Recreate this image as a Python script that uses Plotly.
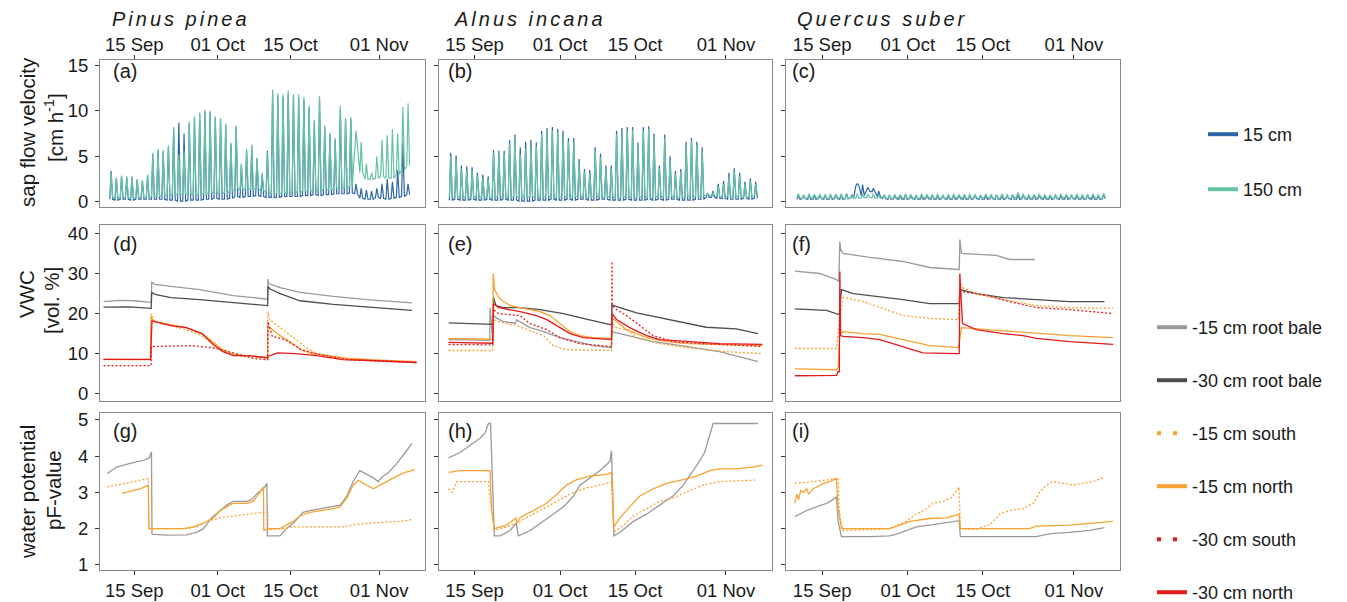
import pandas as pd
import plotly.graph_objects as go

W, H = 1347, 602
BASE = pd.Timestamp("2019-08-31")   # day number d -> BASE + d days (d=15 -> 15 Sep)

# ---------------- axis / text data ----------------
tick_days = [15, 31, 45, 62]
tick_text = ["15 Sep", "01 Oct", "15 Oct", "01 Nov"]
species = ["Pinus pinea", "Alnus incana", "Quercus suber"]
panel_letters = ["(a)", "(b)", "(c)", "(d)", "(e)", "(f)", "(g)", "(h)", "(i)"]
sap_legend = ["15 cm", "150 cm"]
soil_legend = ["-15 cm root bale", "-30 cm root bale", "-15 cm south",
               "-15 cm north", "-30 cm south", "-30 cm north"]

# ---------------- sap flow (daily peak / night trough), days 10..67 ----------------
sf_days = list(range(10, 68))

pp_blue_pk = [3.4, 2.6, 2.8, 2.7, 2.7, 2.4, 2.3, 2.9,
              5.2, 5.6, 5.5, 6.0, 8.0, 8.7, 7.5, 8.6, 9.2, 9.6,
              9.9, 9.8, 9.2, 9.0, 8.4, 6.3, 8.2, 4.0, 5.6, 6.1,
              4.7, 3.0, 5.6, 12.0, 11.6, 11.5, 11.9, 11.5, 11.5, 11.2,
              10.3, 8.8, 11.3, 8.2, 7.4, 6.8, 10.2, 9.0, 9.1, 2.0,
              1.5, 1.3, 1.2, 1.5, 2.0, 2.5, 2.2, 3.5, 6.5, 2.0]
pp_blue_tr = [0.3, 0.2, 0.3, 0.3, 0.2, 0.3, 0.3, 0.3,
              0.3, 0.3, 0.3, 0.2, 0.2, 0.1, 0.1, 0.2, 0.2, 0.2,
              0.3, 0.3, 0.4, 0.3, 0.3, 0.4, 0.6, 0.5, 0.6, 0.6,
              0.7, 0.6, 0.5, 0.5, 0.5, 0.6, 0.6, 0.6, 0.6, 0.7,
              0.7, 0.8, 0.7, 0.8, 0.8, 0.9, 0.9, 0.9, 1.0, 0.9,
              0.4, 0.3, 0.3, 0.5, 0.4, 0.3, 0.4, 0.5, 0.6, 0.8]
pp_teal_pk = [3.2, 2.7, 2.9, 2.8, 2.8, 2.5, 2.4, 3.0,
              5.4, 5.8, 5.7, 6.2, 8.2, 5.2, 5.6, 8.8, 9.4, 9.8,
              10.1, 10.0, 9.4, 9.2, 8.6, 6.5, 8.4, 4.2, 5.8, 6.3,
              4.9, 3.2, 5.4, 12.3, 11.9, 11.8, 12.2, 11.8, 11.8, 11.5,
              10.6, 9.0, 11.6, 8.4, 7.6, 7.0, 10.5, 9.2, 9.3, 7.8,
              6.6, 4.2, 3.2, 5.0, 6.8, 7.3, 8.0, 7.5, 10.4, 10.8]
pp_teal_tr = [0.5, 0.4, 0.5, 0.5, 0.4, 0.5, 0.5, 0.5,
              0.6, 0.6, 0.7, 0.8, 0.8, 0.9, 0.9, 0.9, 0.8, 0.8,
              0.9, 1.0, 1.0, 1.0, 1.0, 1.2, 1.5, 1.3, 1.4, 1.4,
              1.5, 1.2, 1.0, 0.9, 0.9, 1.0, 1.0, 1.1, 1.0, 1.2,
              1.2, 1.3, 1.2, 1.4, 1.3, 1.5, 1.6, 1.5, 1.7, 6.0,
              3.2, 2.5, 2.5, 2.6, 2.8, 2.6, 2.6, 3.0, 3.5, 4.0]

al_blue_pk = [5.4, 5.1, 4.0, 3.9, 3.8, 3.2, 3.0, 2.8,
              5.7, 5.6, 5.6, 6.8, 7.4, 6.0, 6.6, 6.8, 6.5, 7.8,
              8.1, 8.2, 8.0, 7.8, 7.0, 7.0, 4.7, 3.6, 3.5, 6.0,
              5.3, 4.0, 4.0, 7.8, 8.1, 8.2, 8.2, 6.5, 8.2, 8.3,
              7.5, 4.0, 7.4, 5.0, 3.4, 3.6, 6.6, 7.0, 6.6, 6.0,
              1.0, 1.2, 2.0, 2.3, 3.2, 3.7, 3.2, 2.2, 2.6, 2.2]
al_blue_tr = [0.2, 0.3, 0.2, 0.2, 0.3, 0.2, 0.2, 0.3,
              0.2, 0.2, 0.3, 0.2, 0.2, 0.1, 0.1, 0.1, 0.2, 0.2,
              0.2, 0.3, 0.2, 0.2, 0.3, 0.2, 0.3, 0.3, 0.2, 0.2,
              0.3, 0.3, 0.2, 0.2, 0.2, 0.3, 0.2, 0.2, 0.2, 0.3,
              0.2, 0.3, 0.2, 0.3, 0.3, 0.2, 0.2, 0.2, 0.3, 0.3,
              0.5, 0.5, 0.4, 0.4, 0.3, 0.3, 0.3, 0.4, 0.3, 0.4]
al_teal_pk = [5.0, 4.7, 3.6, 3.5, 3.4, 2.9, 2.7, 2.5,
              5.4, 5.3, 5.3, 6.4, 7.0, 5.2, 5.8, 6.0, 6.1, 7.4,
              7.8, 7.8, 7.6, 7.4, 6.6, 6.6, 4.3, 3.3, 3.2, 5.6,
              4.9, 3.7, 3.7, 7.4, 7.8, 7.8, 7.9, 6.1, 7.8, 8.0,
              7.1, 3.7, 7.0, 4.6, 3.1, 3.3, 6.2, 6.7, 6.3, 5.6,
              0.9, 1.0, 1.7, 2.0, 2.8, 3.3, 2.9, 2.0, 2.3, 2.0]
al_teal_tr = [0.5, 0.5, 0.6, 0.5, 0.5, 0.6, 0.5, 0.5,
              0.5, 0.6, 0.5, 0.5, 0.6, 0.5, 0.5, 0.6, 0.5, 0.5,
              0.6, 0.5, 0.5, 0.6, 0.5, 0.6, 0.6, 0.5, 0.5, 0.6,
              0.6, 0.5, 0.6, 0.5, 0.5, 0.6, 0.5, 0.5, 0.6, 0.5,
              0.5, 0.6, 0.5, 0.6, 0.5, 0.5, 0.6, 0.5, 0.6, 0.7,
              0.7, 0.7, 0.6, 0.6, 0.6, 0.6, 0.6, 0.5, 0.6, 0.6]

qs_blue_pk = [0.75, 0.7, 0.8, 0.75, 0.7, 0.8, 0.75, 0.85,
              0.8, 0.9, 0.85, 2.0, 1.9, 1.6, 1.5, 1.2, 0.8, 0.75,
              0.7, 0.75, 0.8, 0.7, 0.75, 0.7, 0.8, 0.75, 0.7, 0.75,
              0.7, 0.75, 0.8, 0.7, 0.75, 0.8, 0.7, 0.75, 0.7, 0.8,
              0.75, 0.7, 0.8, 0.9, 0.75, 0.7, 0.8, 0.75, 0.7, 0.75,
              0.7, 0.75, 0.8, 0.7, 0.75, 0.7, 0.8, 0.75, 0.7, 0.85]
qs_blue_tr = [0.3, 0.35, 0.3, 0.3, 0.35, 0.3, 0.3, 0.35,
              0.3, 0.35, 0.4, 1.8, 0.7, 1.2, 1.1, 0.6, 0.35, 0.3,
              0.35, 0.3, 0.3, 0.35, 0.3, 0.3, 0.35, 0.3, 0.3, 0.35,
              0.3, 0.3, 0.35, 0.3, 0.3, 0.35, 0.3, 0.3, 0.35, 0.3,
              0.3, 0.35, 0.3, 0.3, 0.35, 0.3, 0.3, 0.35, 0.3, 0.3,
              0.35, 0.3, 0.3, 0.35, 0.3, 0.3, 0.35, 0.3, 0.3, 0.35]
qs_teal_pk = [0.9, 0.8, 0.9, 0.85, 0.9, 0.8, 0.9, 0.85,
              0.9, 0.8, 0.85, 0.9, 0.8, 0.85, 0.9, 0.8, 0.75, 0.8,
              0.85, 0.8, 0.9, 0.85, 0.8, 0.9, 0.8, 0.85, 0.9, 0.8,
              0.85, 0.9, 0.8, 0.85, 0.9, 0.85, 0.8, 0.9, 0.85, 0.8,
              0.9, 0.85, 0.8, 1.05, 0.9, 0.85, 0.8, 0.9, 0.85, 0.8,
              0.85, 0.9, 0.8, 0.85, 0.9, 0.85, 0.8, 0.9, 0.85, 0.95]
qs_teal_tr = [0.45, 0.4, 0.45, 0.5, 0.4, 0.45, 0.4, 0.45,
              0.45, 0.4, 0.45, 0.4, 0.45, 0.5, 0.45, 0.4, 0.45, 0.4,
              0.45, 0.5, 0.4, 0.45, 0.4, 0.45, 0.5, 0.4, 0.45, 0.4,
              0.45, 0.4, 0.5, 0.45, 0.4, 0.45, 0.4, 0.5, 0.45, 0.4,
              0.45, 0.4, 0.45, 0.55, 0.45, 0.4, 0.45, 0.5, 0.4, 0.45,
              0.4, 0.45, 0.5, 0.4, 0.45, 0.4, 0.45, 0.5, 0.4, 0.45]

# ---------------- VWC [vol. %] : (day, value) breakpoints ----------------
# Pinus pinea (d)
d_rb15_t = [9.1, 12, 15, 18.25, 18.35, 19, 22, 27.6, 34, 40.6, 40.65, 40.8, 43, 46.8, 53.2, 59.6, 68.3]
d_rb15_v = [23.0, 23.3, 23.2, 22.8, 27.8, 27.3, 26.8, 26.0, 24.5, 23.6, 28.6, 27.5, 26.5, 25.3, 24.3, 23.5, 22.7]
d_rb30_t = [9.1, 14, 18.25, 18.35, 19, 22, 27.6, 34, 40.6, 40.65, 41, 43, 46.8, 53.2, 59.6, 68.3]
d_rb30_v = [21.6, 21.7, 21.3, 25.3, 24.8, 24.0, 23.5, 22.8, 22.0, 26.8, 26.2, 25.0, 23.2, 22.3, 21.7, 20.8]
d_s15_t = [9.1, 18.2, 18.3, 18.6, 19, 22, 25, 28, 31, 33, 36, 40.6, 40.65, 41, 43, 45, 48, 50, 55, 60, 69.2]
d_s15_v = [8.5, 8.5, 20.0, 18.5, 17.8, 17.0, 16.0, 14.5, 11.5, 10.0, 9.3, 9.0, 20.5, 18.5, 16.5, 14.5, 11.5, 10.0, 9.0, 8.5, 7.8]
d_n15_t = [9.1, 18.1, 18.2, 18.35, 19, 22, 25, 28, 30, 32, 34, 37, 40.6, 40.65, 41, 43, 45.5, 47, 49, 52, 56, 60, 69.2]
d_n15_v = [8.6, 8.5, 19.5, 18.8, 18.0, 17.3, 16.5, 15.0, 13.0, 11.0, 9.8, 9.5, 9.0, 17.0, 16.5, 14.5, 12.5, 11.0, 10.0, 9.5, 8.8, 8.5, 8.0]
d_s30_t = [9.1, 18.2, 18.3, 19, 26, 30, 33, 36, 38, 40.6, 40.65, 41.5, 44, 47, 50, 53, 56, 60, 69.2]
d_s30_v = [7.0, 7.0, 11.8, 11.8, 12.0, 11.5, 10.5, 9.5, 8.8, 8.5, 18.0, 14.3, 13.5, 11.0, 10.0, 9.2, 8.5, 8.3, 7.8]
d_n30_t = [9.1, 18.1, 18.2, 18.4, 19, 22, 25, 28, 30, 32, 34, 37, 40.6, 40.65, 42.5, 46, 50, 55, 60, 69.2]
d_n30_v = [8.6, 8.6, 11.0, 18.2, 18.0, 17.0, 16.5, 15.0, 12.5, 10.5, 9.5, 9.5, 9.0, 9.3, 10.2, 10.0, 9.5, 8.5, 8.3, 7.8]

# Alnus incana (e)
e_rb15_t = [10.15, 17.6, 17.85, 17.9, 18.4, 18.55, 19.0, 20.4, 22.6, 22.9, 25.4, 27.9, 31.0, 34.7, 37.2, 40.6, 40.7, 41.0, 48.4, 54.6, 60.8, 68.0]
e_rb15_v = [13.5, 13.3, 13.3, 21.5, 13.5, 19.5, 19.0, 18.0, 17.6, 18.4, 16.5, 15.5, 14.0, 12.8, 12.0, 11.5, 15.8, 15.4, 13.0, 11.8, 10.5, 8.0]
e_rb30_t = [10.15, 17.6, 18.4, 18.55, 19.0, 20.4, 23.5, 27.25, 31.6, 34.7, 40.6, 40.7, 41.0, 45.3, 51.5, 58.3, 63.9, 68.0]
e_rb30_v = [17.7, 17.4, 17.3, 24.0, 22.0, 21.5, 21.5, 21.0, 20.0, 19.0, 17.2, 22.2, 22.0, 20.2, 18.5, 16.6, 16.2, 15.0]
e_s15_t = [10.15, 18.4, 18.55, 19.5, 22.9, 27.9, 29.7, 32.2, 40.6, 40.7, 41.55, 43.4, 45.3, 49.6, 54.6, 62.1, 68.8]
e_s15_v = [10.8, 10.8, 18.5, 18.0, 17.0, 14.5, 12.0, 11.0, 10.8, 17.5, 16.5, 16.0, 14.0, 12.5, 11.5, 10.5, 10.0]
e_n15_t = [10.15, 18.4, 18.5, 18.75, 19.5, 20.4, 21.65, 23.5, 25.4, 27.25, 29.1, 31.0, 32.85, 34.7, 37.2, 40.6, 40.7, 41.55, 43.4, 47.15, 51.0, 54.6, 60.8, 68.8]
e_n15_v = [13.8, 13.6, 30.0, 26.0, 24.0, 23.0, 22.0, 21.5, 21.0, 20.5, 19.5, 17.5, 15.5, 14.5, 14.0, 13.8, 19.0, 18.0, 16.0, 14.0, 13.0, 12.5, 12.2, 12.0]
e_s30_t = [10.15, 18.4, 18.55, 19.5, 23.5, 25.4, 28.5, 31.0, 34.7, 40.6, 40.7, 40.75, 41.55, 43.4, 45.9, 48.4, 52.1, 57.7, 68.8]
e_s30_v = [12.3, 12.2, 21.0, 20.0, 19.5, 17.5, 16.0, 14.0, 12.5, 11.8, 33.0, 22.0, 21.0, 19.5, 17.0, 14.5, 13.0, 12.5, 11.8]
e_n30_t = [10.15, 18.4, 18.55, 19.5, 23.5, 26.6, 28.5, 31.0, 32.85, 35.3, 40.3, 40.6, 40.75, 41.55, 44.0, 47.15, 49.6, 54.6, 60.8, 68.8]
e_n30_v = [12.8, 12.6, 22.5, 21.5, 20.5, 19.5, 18.5, 16.5, 15.0, 14.0, 13.5, 13.5, 20.0, 18.5, 16.5, 14.5, 13.5, 13.0, 12.5, 12.3]

# Quercus suber (f)
f_rb15_t = [9.9, 14.56, 17.67, 18.1, 18.3, 18.45, 18.9, 23.9, 30.1, 35.1, 40.4, 40.6, 40.7, 41.0, 47.5, 50.0, 54.7]
f_rb15_v = [30.6, 30.0, 28.5, 28.0, 38.0, 36.0, 35.0, 34.0, 33.0, 31.5, 31.0, 31.0, 38.5, 35.0, 34.5, 33.5, 33.5]
f_rb30_t = [9.9, 15.8, 17.99, 18.2, 18.6, 20.8, 23.9, 30.1, 35.1, 40.4, 40.6, 40.7, 43.8, 48.8, 55.0, 61.2, 67.7]
f_rb30_v = [21.2, 20.8, 19.8, 19.8, 26.0, 25.0, 24.5, 23.5, 22.5, 22.5, 22.5, 26.0, 25.0, 24.0, 23.5, 23.0, 23.0]
f_s15_t = [9.9, 17.67, 18.2, 18.9, 22.65, 25.76, 30.1, 35.1, 40.4, 40.7, 41.2, 43.8, 48.8, 55.0, 61.2, 69.3]
f_s15_v = [11.3, 11.3, 18.0, 24.0, 23.0, 21.5, 19.5, 18.8, 18.5, 27.5, 26.5, 25.0, 23.5, 22.0, 21.5, 21.3]
f_n15_t = [9.9, 17.67, 18.0, 18.3, 18.9, 22.65, 25.76, 30.1, 35.1, 40.4, 40.7, 41.0, 45.7, 48.8, 55.0, 61.2, 69.3]
f_n15_v = [6.2, 6.0, 6.5, 15.0, 15.5, 15.0, 14.8, 13.5, 12.0, 11.5, 13.5, 16.5, 16.0, 15.8, 15.0, 14.5, 14.0]
f_s30_t = [40.7, 41.2, 45.7, 50.0, 55.0, 61.2, 69.3]
f_s30_v = [26.0, 25.5, 24.5, 23.0, 21.5, 21.0, 20.0]
f_n30_t = [9.9, 17.67, 17.99, 18.2, 18.3, 18.45, 18.9, 22.65, 25.76, 28.2, 31.4, 33.8, 40.4, 40.6, 40.7, 41.2, 43.8, 48.8, 52.5, 55.0, 61.2, 69.3]
f_n30_v = [4.5, 4.6, 5.5, 5.5, 30.5, 14.5, 14.3, 14.0, 13.5, 12.5, 11.0, 10.2, 10.0, 10.0, 30.0, 17.5, 16.0, 15.0, 14.5, 13.8, 13.0, 12.3]

# ---------------- water potential pF : (day, value) breakpoints ----------------
g_rb15_t = [9.8, 11.6, 14.2, 16.7, 17.9, 18.3, 18.4, 21.2, 25.0, 26.97, 28.25, 29.86, 31.5, 32.7, 34.0, 36.6, 37.5,
            38.8, 39.8, 40.45, 40.55, 42.96, 43.6, 44.2, 45.5, 46.5, 47.4, 48.7, 50.6, 53.2, 54.5, 55.8, 57.0,
            58.3, 59.6, 60.9, 61.8, 62.8, 63.8, 65.4, 67.0, 68.3]
g_rb15_v = [3.52, 3.7, 3.8, 3.88, 3.95, 4.12, 1.85, 1.82, 1.83, 1.9, 2.0, 2.3, 2.5, 2.65, 2.75, 2.75, 2.8,
            3.0, 3.1, 3.25, 1.8, 1.8, 1.9, 2.0, 2.15, 2.3, 2.45, 2.5, 2.55, 2.6, 2.65, 2.9, 3.3,
            3.6, 3.5, 3.4, 3.3, 3.45, 3.55, 3.8, 4.1, 4.35]
g_s15_t = [9.8, 13.5, 16.7, 17.7, 17.8, 18.65, 25.0, 26.97, 28.9, 31.5, 34.0, 36.6, 39.8, 40.6, 40.7, 43.6,
           45.5, 53.2, 55.1, 57.0, 59.6, 66.0, 68.3]
g_s15_v = [3.15, 3.25, 3.35, 3.38, 2.0, 2.0, 2.0, 2.05, 2.2, 2.3, 2.35, 2.4, 2.45, 2.45, 1.98, 2.0,
           2.05, 2.05, 2.05, 2.1, 2.15, 2.2, 2.25]
g_n15_t = [12.6, 16.1, 17.7, 17.8, 18.65, 24.4, 26.3, 28.25, 30.2, 31.5, 32.7, 34.0, 36.6, 37.8, 39.1, 39.8,
           39.85, 41.0, 42.96, 44.2, 45.5, 46.8, 48.7, 53.2, 54.5, 55.8, 57.0, 58.0, 59.6, 60.9, 62.2, 63.4,
           65.4, 67.0, 68.9]
g_n15_v = [2.97, 3.1, 3.2, 2.0, 2.0, 2.0, 2.05, 2.15, 2.3, 2.5, 2.6, 2.7, 2.7, 2.75, 3.0, 3.15,
           1.95, 2.0, 2.0, 2.1, 2.2, 2.35, 2.45, 2.55, 2.6, 2.85, 3.2, 3.33, 3.2, 3.1, 3.2, 3.3,
           3.45, 3.55, 3.63]

h_rb15_t = [10.15, 12.3, 14.2, 16.1, 17.0, 17.6, 18.0, 18.7, 19.8, 21.65, 22.8, 23.2, 25.4, 27.9, 29.7,
            31.6, 33.5, 34.7, 36.6, 38.4, 40.3, 40.6, 41.05, 42.2, 44.7, 47.15, 49.6, 52.1, 54.0, 55.2,
            56.8, 58.0, 59.0, 59.6, 68.0]
h_rb15_v = [3.95, 4.1, 4.3, 4.5, 4.65, 4.9, 4.9, 1.8, 1.8, 1.95, 2.15, 1.8, 1.95, 2.2, 2.4,
            2.6, 2.9, 3.2, 3.4, 3.6, 3.85, 4.15, 1.8, 1.9, 2.2, 2.4, 2.65, 2.9, 3.2, 3.45,
            3.8, 4.1, 4.6, 4.9, 4.9]
h_s15_t = [10.15, 10.8, 11.7, 17.6, 18.2, 18.7, 21.0, 23.5, 26.0, 28.5, 30.4, 32.85, 35.3, 38.4, 40.6,
           41.05, 42.8, 44.7, 47.15, 49.6, 52.1, 54.6, 57.7, 60.8, 67.7]
h_s15_v = [3.1, 3.0, 3.3, 3.3, 2.5, 1.95, 2.05, 2.2, 2.4, 2.6, 2.75, 2.95, 3.1, 3.2, 3.28,
           1.9, 2.1, 2.35, 2.55, 2.75, 2.85, 3.0, 3.2, 3.3, 3.34]
h_n15_t = [10.15, 12.3, 17.9, 18.2, 18.7, 21.0, 22.8, 22.9, 23.5, 26.0, 28.5, 30.4, 32.2, 34.1, 36.6,
           39.7, 40.6, 41.05, 42.2, 44.0, 45.9, 48.4, 50.9, 54.0, 56.5, 59.0, 60.8, 63.9, 67.05, 68.8]
h_n15_v = [3.55, 3.6, 3.6, 2.5, 2.0, 2.1, 2.3, 2.15, 2.3, 2.5, 2.7, 2.95, 3.2, 3.35, 3.45,
           3.5, 3.55, 2.05, 2.3, 2.6, 2.9, 3.1, 3.25, 3.35, 3.45, 3.6, 3.65, 3.65, 3.7, 3.75]

i_rb15_t = [9.9, 12.1, 13.9, 15.8, 17.05, 17.67, 17.99, 18.6, 23.9, 27.6, 28.9, 30.7, 32.6, 35.1, 38.8,
            40.56, 40.8, 55.0, 56.2, 58.1, 61.2, 64.9, 67.7]
i_rb15_v = [2.33, 2.5, 2.6, 2.7, 2.8, 2.88, 2.2, 1.78, 1.78, 1.8, 1.85, 1.95, 2.05, 2.1, 2.18,
            2.22, 1.78, 1.78, 1.82, 1.87, 1.9, 1.95, 2.03]
i_s15_t = [9.9, 13.3, 16.4, 17.99, 18.1, 18.4, 18.9, 23.9, 27.6, 30.7, 32.0, 34.5, 35.7, 37.6, 39.1,
           40.56, 40.8, 43.8, 45.0, 46.3, 48.1, 50.0, 52.5, 54.4, 55.6, 56.85, 58.1, 60.0, 61.8, 63.7,
           65.6, 67.4]
i_s15_v = [3.25, 3.3, 3.35, 3.4, 2.7, 2.25, 1.95, 1.97, 2.0, 2.2, 2.35, 2.55, 2.7, 2.75, 2.85,
           3.15, 2.0, 1.98, 2.05, 2.1, 2.4, 2.5, 2.55, 2.7, 3.0, 3.2, 3.3, 3.25, 3.2, 3.25,
           3.3, 3.4]
i_n15_t = [9.9, 10.3, 10.6, 11.0, 11.45, 12.1, 12.5, 13.3, 14.0, 15.2, 16.4, 17.67, 17.99, 18.1, 18.6,
           27.6, 29.5, 31.4, 35.1, 38.2, 40.56, 40.8, 53.7, 55.0, 61.2, 66.2, 69.3]
i_n15_v = [2.7, 2.95, 2.8, 3.05, 3.0, 3.1, 2.95, 3.1, 3.15, 3.25, 3.3, 3.38, 2.5, 2.5, 2.0,
           2.0, 2.1, 2.2, 2.28, 2.3, 2.4, 2.0, 2.0, 2.07, 2.1, 2.15, 2.2]

# ---------------- styling ----------------
FONT = "Liberation Sans, Arial, sans-serif"
TXT = "#1a1a1a"
FRAME = "#8a8a8a"
TICKC = "#333333"
C_BLUE = "#2d66a6"
C_TEAL = "#66c2a5"
C_LGRAY = "#9a9a9a"
C_DGRAY = "#4d4d4d"
C_ORANGE = "#f7a231"
C_RED = "#e31a1c"
DOT = "2px,2px"

col_px = [(100, 425), (438.5, 772), (786, 1120)]
col_range = [(8.42, 70.8), (8.27, 70.6), (8.25, 70.6)]
row_px = [(60, 207), (225, 401), (413, 570)]
row_range = [(-0.55, 15.55), (-1.8, 42.1), (0.86, 5.19)]
row_ticks = [[0, 5, 10, 15], [0, 10, 20, 30, 40], [1, 2, 3, 4, 5]]


def ds(d):
    return (BASE + pd.Timedelta(days=float(d))).strftime("%Y-%m-%d %H:%M:%S")


def dates(days):
    return [ds(d) for d in days]


def axn(k):
    return "" if k == 1 else str(k)


fig = go.Figure()


def add_line(t, v, k, color, dash=None, width=1.3):
    fig.add_trace(go.Scatter(
        x=dates(t), y=v, mode="lines",
        line=dict(color=color, width=width, dash=dash),
        xaxis="x" + axn(k), yaxis="y" + axn(k),
        showlegend=False, hoverinfo="skip"))


def diurnal(days, peaks, troughs):
    t, v = [], []
    for d, pk, tr in zip(days, peaks, troughs):
        t += [d + 0.3, d + 0.55, d + 0.85]
        v += [tr, pk, tr]
    return t, v


# sap flow
for k, (bpk, btr, tpk, ttr) in zip(
        [1, 2, 3],
        [(pp_blue_pk, pp_blue_tr, pp_teal_pk, pp_teal_tr),
         (al_blue_pk, al_blue_tr, al_teal_pk, al_teal_tr),
         (qs_blue_pk, qs_blue_tr, qs_teal_pk, qs_teal_tr)]):
    t, v = diurnal(sf_days, bpk, btr)
    add_line(t, v, k, C_BLUE, width=1.2)
    t, v = diurnal(sf_days, tpk, ttr)
    add_line(t, v, k, C_TEAL, width=1.2)

# VWC + pF
vwc_sets = {
    4: [(d_rb15_t, d_rb15_v, C_LGRAY, None), (d_rb30_t, d_rb30_v, C_DGRAY, None),
        (d_s15_t, d_s15_v, C_ORANGE, DOT), (d_n15_t, d_n15_v, C_ORANGE, None),
        (d_s30_t, d_s30_v, C_RED, DOT), (d_n30_t, d_n30_v, C_RED, None)],
    5: [(e_rb15_t, e_rb15_v, C_LGRAY, None), (e_rb30_t, e_rb30_v, C_DGRAY, None),
        (e_s15_t, e_s15_v, C_ORANGE, DOT), (e_n15_t, e_n15_v, C_ORANGE, None),
        (e_s30_t, e_s30_v, C_RED, DOT), (e_n30_t, e_n30_v, C_RED, None)],
    6: [(f_rb15_t, f_rb15_v, C_LGRAY, None), (f_rb30_t, f_rb30_v, C_DGRAY, None),
        (f_s15_t, f_s15_v, C_ORANGE, DOT), (f_n15_t, f_n15_v, C_ORANGE, None),
        (f_s30_t, f_s30_v, C_RED, DOT), (f_n30_t, f_n30_v, C_RED, None)],
    7: [(g_rb15_t, g_rb15_v, C_LGRAY, None), (g_s15_t, g_s15_v, C_ORANGE, DOT),
        (g_n15_t, g_n15_v, C_ORANGE, None)],
    8: [(h_rb15_t, h_rb15_v, C_LGRAY, None), (h_s15_t, h_s15_v, C_ORANGE, DOT),
        (h_n15_t, h_n15_v, C_ORANGE, None)],
    9: [(i_rb15_t, i_rb15_v, C_LGRAY, None), (i_s15_t, i_s15_v, C_ORANGE, DOT),
        (i_n15_t, i_n15_v, C_ORANGE, None)],
}
for k, series in vwc_sets.items():
    for t, v, c, dsh in series:
        add_line(t, v, k, c, dsh)

# legend-only traces
for name, c in zip(sap_legend, [C_BLUE, C_TEAL]):
    fig.add_trace(go.Scatter(x=[None], y=[None], mode="lines", name=name,
                             line=dict(color=c, width=4), legend="legend",
                             legendgroup=name, xaxis="x3", yaxis="y3"))
soil_cols = [C_LGRAY, C_DGRAY, C_ORANGE, C_ORANGE, C_RED, C_RED]
soil_dash = [None, None, "4px,12px", None, "4px,12px", None]
for name, c, dsh in zip(soil_legend, soil_cols, soil_dash):
    fig.add_trace(go.Scatter(x=[None], y=[None], mode="lines", name=name,
                             line=dict(color=c, width=4, dash=dsh), legend="legend2",
                             legendgroup=name, xaxis="x6", yaxis="y6"))

layout = dict(
    width=W, height=H, margin=dict(l=0, r=0, t=0, b=0, autoexpand=False),
    paper_bgcolor="white", plot_bgcolor="white",
    font=dict(family=FONT, color=TXT, size=18),
    legend=dict(x=1203 / W, y=1 - 116 / H, xanchor="left", yanchor="top",
                tracegroupgap=28.6, font=dict(size=18, color=TXT),
                bgcolor="rgba(0,0,0,0)", borderwidth=0),
    legend2=dict(x=1152 / W, y=1 - 309 / H, xanchor="left", yanchor="top",
                 tracegroupgap=26.6, font=dict(size=18, color=TXT),
                 bgcolor="rgba(0,0,0,0)", borderwidth=0),
)

annotations = []
for k in range(1, 10):
    r, c = (k - 1) // 3, (k - 1) % 3
    x0, x1 = col_px[c]
    y0, y1 = row_px[r]
    xa = dict(
        domain=[x0 / W, x1 / W], type="date",
        range=[ds(col_range[c][0]), ds(col_range[c][1])],
        anchor="y" + axn(k), showline=True, mirror=True, linecolor=FRAME, linewidth=1,
        showgrid=False, zeroline=False,
        tickmode="array", tickvals=dates(tick_days), ticktext=tick_text,
        ticks="" if r == 1 else "outside", ticklen=4, tickwidth=1, tickcolor=TICKC,
        showticklabels=(r != 1), side="top" if r == 0 else "bottom",
        tickfont=dict(size=18.5, color=TXT), ticklabelstandoff=(-3 if r == 0 else 0),
    )
    ya = dict(
        domain=[1 - y1 / H, 1 - y0 / H], range=list(row_range[r]),
        anchor="x" + axn(k), showline=True, mirror=True, linecolor=FRAME, linewidth=1,
        showgrid=False, zeroline=False,
        tickmode="array", tickvals=row_ticks[r],
        ticks="outside", ticklen=4, tickwidth=1, tickcolor=TICKC,
        showticklabels=(c == 0), tickfont=dict(size=18.5, color=TXT), ticklabelstandoff=3,
    )
    layout["xaxis" + axn(k)] = xa
    layout["yaxis" + axn(k)] = ya
    # panel letter
    ly = [71, 244, 431][r]
    lx = x0 + [11, 7, 4][c]
    annotations.append(dict(text=panel_letters[k - 1], x=lx / W, y=1 - ly / H,
                            xref="paper", yref="paper", xanchor="left", yanchor="middle",
                            showarrow=False, font=dict(size=20, color=TXT)))

# species titles
for name, x in zip(species, [110, 452, 795]):
    annotations.append(dict(text='<span style="letter-spacing:3px">' + name + '</span>',
                            x=x / W, y=1 - 19 / H, xref="paper", yref="paper",
                            xanchor="left", yanchor="middle", showarrow=False,
                            font=dict(size=20, color=TXT, style="italic")))

# y-axis titles
ytitles = [("sap flow velocity", 27, 132), ("[cm h<sup>-1</sup>]", 54, 128),
           ("VWC", 26, 294), ("[vol. %]", 52, 300),
           ("water potential", 27, 492), ("pF-value", 53, 490)]
for txt, x, y in ytitles:
    annotations.append(dict(text=txt, x=x / W, y=1 - y / H, xref="paper", yref="paper",
                            xanchor="center", yanchor="middle", textangle=-90,
                            showarrow=False, font=dict(size=20.5, color=TXT)))

layout["annotations"] = annotations
fig.update_layout(**layout)
fig.write_html("out.html")
